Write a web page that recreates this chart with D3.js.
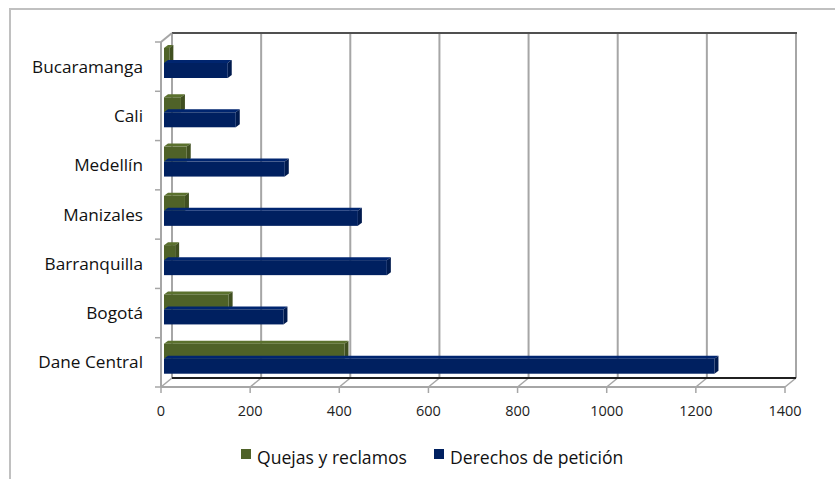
<!DOCTYPE html>
<html>
<head>
<meta charset="utf-8">
<script src="https://cdn.jsdelivr.net/npm/d3@7"></script>
<style>
body { margin: 0; background: #fff; }
svg { display: block; font-family: "Open Sans", sans-serif; }
</style>
</head>
<body>
<svg id="chart" width="835" height="479"></svg>
<script>
var categories = ["Bucaramanga", "Cali", "Medellín", "Manizales", "Barranquilla", "Bogotá", "Dane Central"];
var quejas = [12, 38, 51, 47, 25, 145, 405];
var derechos = [143, 161, 271, 435, 500, 268, 1235];
var ticks = [0, 200, 400, 600, 800, 1000, 1200, 1400];
var seriesNames = ["Quejas y reclamos", "Derechos de petición"];

var svg = d3.select("#chart");

// depth of the 3d box
var dx = 11, dy = -9;
var xf = d3.scaleLinear().domain([0, 1400]).range([161, 785]);
var y = d3.scaleBand().domain(categories).range([42, 387]);

var front = "#002060", green = "#4f6228";

// outer border
svg.append("rect")
	.attr("x", 10).attr("y", 9)
	.attr("width", 900).attr("height", 600)
	.attr("fill", "none")
	.attr("stroke", "#c0c0c0")
	.attr("stroke-width", 2);

var grid = svg.append("g");

// back wall grid lines
grid.selectAll("line.v")
	.data(ticks)
	.enter().append("line")
	.attr("x1", function(d) { return xf(d) + dx; })
	.attr("x2", function(d) { return xf(d) + dx; })
	.attr("y1", y.range()[0] + dy)
	.attr("y2", y.range()[1] + dy)
	.attr("stroke", "#a6a6a6")
	.attr("stroke-width", 2);

// floor diagonals
grid.selectAll("line.f")
	.data(ticks)
	.enter().append("line")
	.attr("x1", function(d) { return xf(d); })
	.attr("x2", function(d) { return xf(d) + dx; })
	.attr("y1", y.range()[1])
	.attr("y2", y.range()[1] + dy)
	.attr("stroke", "#a6a6a6")
	.attr("stroke-width", 1.5);

// back wall top edge
grid.append("line")
	.attr("x1", xf(0) + dx).attr("x2", xf(1400) + dx + 1)
	.attr("y1", y.range()[0] + dy).attr("y2", y.range()[0] + dy)
	.attr("stroke", "#505050").attr("stroke-width", 2);

// floor back edge
grid.append("line")
	.attr("x1", xf(0) + dx).attr("x2", xf(1400) + dx)
	.attr("y1", y.range()[1] + dy).attr("y2", y.range()[1] + dy)
	.attr("stroke", "#202020").attr("stroke-width", 2);

// left wall
grid.append("line")
	.attr("x1", xf(0)).attr("x2", xf(0))
	.attr("y1", y.range()[0]).attr("y2", y.range()[1])
	.attr("stroke", "#a6a6a6").attr("stroke-width", 2);
grid.append("line")
	.attr("x1", xf(0)).attr("x2", xf(0) + dx)
	.attr("y1", y.range()[0]).attr("y2", y.range()[0] + dy)
	.attr("stroke", "#a6a6a6").attr("stroke-width", 2);

// left ticks
var bounds = categories.map(function(c) { return y(c); }).concat([y.range()[1]]);
grid.selectAll("line.lt")
	.data(bounds)
	.enter().append("line")
	.attr("x1", xf(0) - 6).attr("x2", xf(0))
	.attr("y1", function(d) { return d; }).attr("y2", function(d) { return d; })
	.attr("stroke", "#a6a6a6").attr("stroke-width", 1.5);

// front axis
grid.append("line")
	.attr("x1", xf(0)).attr("x2", xf(1400))
	.attr("y1", y.range()[1]).attr("y2", y.range()[1])
	.attr("stroke", "#a6a6a6").attr("stroke-width", 2);
grid.selectAll("line.bt")
	.data(ticks)
	.enter().append("line")
	.attr("x1", function(d) { return xf(d); })
	.attr("x2", function(d) { return xf(d); })
	.attr("y1", y.range()[1]).attr("y2", y.range()[1] + 6)
	.attr("stroke", "#a6a6a6").attr("stroke-width", 1.5);

// tick labels
svg.append("g").selectAll("text")
	.data(ticks)
	.enter().append("text")
	.attr("x", function(d) { return xf(d); })
	.attr("y", 416)
	.attr("text-anchor", "middle")
	.attr("font-size", 14.5)
	.attr("fill", "#222")
	.text(function(d) { return d; });

// category labels
svg.append("g").selectAll("text")
	.data(categories)
	.enter().append("text")
	.attr("x", 143)
	.attr("y", function(d) { return y(d) + y.bandwidth() / 2 + 6; })
	.attr("text-anchor", "end")
	.attr("font-size", 17.2)
	.attr("fill", "#111")
	.text(function(d) { return d; });

// bars
var bx = 3, bdx = 4, bdy = -3, bh = 15;

function darker(c, k) { return d3.color(c).darker(k).toString(); }

function drawBar(g, v, top, col) {
	var x0 = xf(0) + bx, x1 = xf(v) + bx;
	// top face
	g.append("path")
		.attr("d", "M" + x0 + "," + top + "L" + (x0 + bdx) + "," + (top + bdy) +
			"L" + (x1 + bdx) + "," + (top + bdy) + "L" + x1 + "," + top + "Z")
		.attr("fill", d3.color(col).brighter(0.4).toString());
	// side face
	g.append("path")
		.attr("d", "M" + x1 + "," + top + "L" + (x1 + bdx) + "," + (top + bdy) +
			"L" + (x1 + bdx) + "," + (top + bdy + bh) + "L" + x1 + "," + (top + bh) + "Z")
		.attr("fill", darker(col, 0.6));
	// front face
	g.append("rect")
		.attr("x", x0).attr("y", top)
		.attr("width", x1 - x0).attr("height", bh)
		.attr("fill", col);
}

var bars = svg.append("g");
categories.forEach(function(c, i) {
	drawBar(bars, quejas[i], y(c) + 6, green);
	drawBar(bars, derechos[i], y(c) + 21, front);
});

// legend
var legend = svg.append("g");
var lx = [241, 434];
var lc = [green, front];
seriesNames.forEach(function(n, i) {
	legend.append("rect")
		.attr("x", lx[i]).attr("y", 449)
		.attr("width", 10).attr("height", 10)
		.attr("fill", lc[i]);
	legend.append("text")
		.attr("x", lx[i] + 16).attr("y", 464)
		.attr("font-size", 17.6)
		.attr("fill", "#111")
		.text(n);
});
</script>
</body>
</html>
